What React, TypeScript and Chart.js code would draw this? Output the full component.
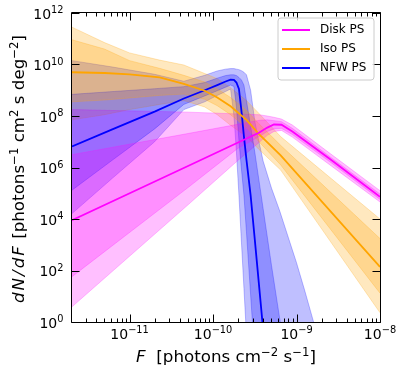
import React, { useEffect, useRef } from 'react';
import { Chart, registerables } from 'chart.js';

Chart.register(...registerables);

// ---- axis ranges (log10 exponents) ----
const xMinExp = -11.69;
const xMaxExp = -8;
const yMinExp = 0;
const yMaxExp = 12;
const xTickExps = [-11, -10, -9, -8];
const yTickExps = [0, 2, 4, 6, 8, 10, 12];

const seriesNames = ['Disk PS', 'Iso PS', 'NFW PS'];
const seriesRGB = ['255,0,255', '255,165,0', '0,0,255'];

// ---- Disk PS (log10 F, log10 dN/dF) ----
const diskLogF = [-11.69, -10.3, -9.7, -9.45, -9.35, -9.27, -9.18, -9.05, -8.6, -8.0];
const diskMed = [3.95, 6.06, 6.97, 7.35, 7.55, 7.67, 7.66, 7.4, 6.33, 4.86];
const diskHi68 = [6.5, 7.32, 7.68, 7.83, 7.85, 7.82, 7.78, 7.52, 6.42, 4.97];
const diskLo68 = [1.76, 5.22, 6.75, 7.2, 7.4, 7.5, 7.52, 7.28, 6.22, 4.76];
const diskHi95 = [8.25, 8.15, 8.08, 8.05, 8.0, 7.95, 7.88, 7.65, 6.55, 5.1];
const diskLo95 = [0.59, 4.55, 6.28, 6.97, 7.25, 7.4, 7.44, 7.18, 6.1, 4.66];

// ---- Iso PS ----
const isoLogF = [-11.69, -11.3, -11.0, -10.64, -10.35, -10.1, -9.95, -9.79, -9.6, -9.45, -9.19, -8.0];
const isoMed = [9.7, 9.67, 9.62, 9.5, 9.25, 8.98, 8.72, 8.38, 7.85, 7.3, 6.47, 2.14];
const isoHi68 = [10.96, 10.6, 10.15, 9.85, 9.58, 9.32, 9.05, 8.72, 8.22, 7.7, 6.86, 3.24];
const isoLo68 = [8.55, 8.62, 8.7, 8.8, 8.85, 8.65, 8.4, 8.05, 7.55, 7.0, 6.1, 1.12];
const isoHi95 = [11.45, 10.85, 10.45, 10.17, 9.98, 9.65, 9.45, 9.1, 8.6, 8.1, 7.2, 4.0];
const isoLo95 = [7.85, 8.05, 8.25, 8.45, 8.6, 8.35, 8.05, 7.64, 7.2, 6.7, 5.9, 0.36];

// ---- NFW PS ----
const nfwLogF = [-11.69, -11.2, -10.7, -10.35, -10.1, -9.95, -9.85, -9.79, -9.75, -9.72, -9.69, -9.66, -9.63, -9.6, -9.55, -9.5, -9.45, -9.4, -9.3, -9.2, -9.1, -9.0, -8.9, -8.8, -8.7];
const nfwMed = [6.82, 7.49, 8.17, 8.68, 9.0, 9.2, 9.34, 9.41, 9.4, 9.3, 9.05, 8.2, 7.2, 6.3, 4.92, 3.2, 1.45, -0.3, -3.5, -6, -6, -6, -6, -6, -6];
const nfwHi68 = [8.84, 8.95, 9.06, 9.14, 9.3, 9.47, 9.57, 9.6, 9.6, 9.57, 9.5, 9.4, 9.2, 8.6, 7.6, 6.6, 5.5, 4.4, 2.2, 0.1, -2, -4, -6, -6, -6];
const nfwLo68 = [5.12, 6.3, 7.5, 8.45, 8.78, 8.98, 9.12, 9.2, 9.15, 8.35, 7.05, 5.94, 4.92, 3.5, 1.05, -1.4, -3.5, -6, -6, -6, -6, -6, -6, -6, -6];
const nfwHi95 = [10.15, 9.9, 9.62, 9.35, 9.58, 9.75, 9.82, 9.84, 9.84, 9.82, 9.8, 9.76, 9.7, 9.6, 9.0, 7.8, 7.0, 6.25, 5.2, 4.3, 3.3, 2.3, 1.2, 0.05, -1.1];
const nfwLo95 = [4.21, 5.6, 7.0, 8.25, 8.55, 8.8, 8.95, 9.05, 8.0, 6.6, 4.92, 3.1, 1.3, -0.5, -3.5, -6, -6, -6, -6, -6, -6, -6, -6, -6, -6];

// ---- text ----
type Seg = { t: string; it?: boolean; sup?: boolean; gap?: number };
const xTitle: Seg[] = [
  { t: 'F', it: true },
  { t: '  [photons cm' },
  { t: '−2', sup: true },
  { t: ' s' },
  { t: '−1', sup: true },
  { t: ']' },
];
const yTitle: Seg[] = [
  { t: 'd', it: true, gap: 2 },
  { t: 'N', it: true, gap: 2 },
  { t: '/', it: true, gap: 2 },
  { t: 'd', it: true, gap: 2 },
  { t: 'F', it: true, gap: 2 },
  { t: ' [photons' },
  { t: '−1', sup: true },
  { t: ' cm' },
  { t: '2', sup: true },
  { t: ' s deg' },
  { t: '−2', sup: true },
  { t: ']' },
];

const FONT = "'DejaVu Sans', 'Liberation Sans', sans-serif";
const TICK_SIZE = 14;
const TITLE_SIZE = 16.7;

const pts = (xs: number[], ys: number[]) => xs.map((x, i) => ({ x: Math.pow(10, x), y: Math.pow(10, ys[i]) }));

function bands(xs: number[], hi95: number[], lo95: number[], hi68: number[], lo68: number[], rgb: string) {
  const c = `rgba(${rgb},0.25)`;
  const common = { pointRadius: 0, borderWidth: 1, borderColor: c, backgroundColor: c, tension: 0 };
  return [
    { ...common, label: '_', data: pts(xs, hi95), fill: '+1', order: 2 },
    { ...common, label: '_', data: pts(xs, lo95), fill: false, order: 2 },
    { ...common, label: '_', data: pts(xs, hi68), fill: '+1', order: 1 },
    { ...common, label: '_', data: pts(xs, lo68), fill: false, order: 1 },
  ];
}

function drawMath(ctx: CanvasRenderingContext2D, segs: Seg[], size: number, x: number, y: number, align: 'center' | 'right') {
  const fontFor = (s: Seg) => `${s.it ? 'italic ' : ''}${s.sup ? size * 0.7 : size}px ${FONT}`;
  let total = 0;
  const widths = segs.map((s) => {
    ctx.font = fontFor(s);
    const w = ctx.measureText(s.t).width + (s.gap || 0);
    total += w;
    return w;
  });
  let cx = align === 'center' ? x - total / 2 : x - total;
  ctx.textAlign = 'left';
  ctx.textBaseline = 'alphabetic';
  segs.forEach((s, i) => {
    ctx.font = fontFor(s);
    ctx.fillText(s.t, cx, s.sup ? y - size * 0.38 : y);
    cx += widths[i];
  });
}

const expSegs = (e: number): Seg[] => [{ t: '10' }, { t: String(e).replace('-', '−'), sup: true }];

const frameTicksPlugin = {
  id: 'frameTicks',
  afterDatasetsDraw(chart: any) {
    const { ctx, chartArea } = chart;
    const { left, right, top, bottom } = chartArea;
    const xs = chart.scales.x;
    const ys = chart.scales.y;
    ctx.save();
    ctx.strokeStyle = '#000';
    ctx.lineWidth = 1;
    const L = Math.round(left) - 0.5;
    const R = Math.round(right) + 0.5;
    const T = Math.round(top) - 0.5;
    const B = Math.round(bottom) + 0.5;
    ctx.beginPath();
    ctx.rect(L, T, R - L, B - T);
    ctx.stroke();
    ctx.beginPath();
    for (let e = Math.floor(xMinExp); e <= xMaxExp; e++) {
      for (let m = 1; m <= 9; m++) {
        const v = m * Math.pow(10, e);
        const lv = Math.log10(v);
        if (lv < xMinExp - 1e-9 || lv > xMaxExp + 1e-9) continue;
        const px = Math.round(xs.getPixelForValue(v)) + 0.5;
        const len = m === 1 ? 8 : 4;
        ctx.moveTo(px, B);
        ctx.lineTo(px, B - len);
        ctx.moveTo(px, T);
        ctx.lineTo(px, T + len);
      }
    }
    for (const e of yTickExps) {
      const py = Math.round(ys.getPixelForValue(Math.pow(10, e))) + 0.5;
      ctx.moveTo(L, py);
      ctx.lineTo(L + 8, py);
      ctx.moveTo(R, py);
      ctx.lineTo(R - 8, py);
    }
    ctx.stroke();

    // tick labels and axis titles
    ctx.fillStyle = '#000';
    for (const e of xTickExps) {
      const px = xs.getPixelForValue(Math.pow(10, e));
      drawMath(ctx, expSegs(e), TICK_SIZE, px, bottom + 16.5, 'center');
    }
    for (const e of yTickExps) {
      const py = ys.getPixelForValue(Math.pow(10, e));
      drawMath(ctx, expSegs(e), TICK_SIZE, left - 8.5, py + 5.5, 'right');
    }
    drawMath(ctx, xTitle, TITLE_SIZE, (left + right) / 2, bottom + 40, 'center');
    ctx.save();
    ctx.translate(left - 48, (top + bottom) / 2 + 1.5);
    ctx.rotate(-Math.PI / 2);
    drawMath(ctx, yTitle, TITLE_SIZE, 0, 0, 'center');
    ctx.restore();
    ctx.restore();
  },
};

const legendPlugin = {
  id: 'insideLegend',
  afterDraw(chart: any) {
    const { ctx, chartArea } = chart;
    const w = 96;
    const h = 62;
    const x0 = chartArea.right - 6 - w;
    const y0 = chartArea.top + 5;
    ctx.save();
    ctx.beginPath();
    const r = 3;
    ctx.moveTo(x0 + r, y0);
    ctx.lineTo(x0 + w - r, y0);
    ctx.quadraticCurveTo(x0 + w, y0, x0 + w, y0 + r);
    ctx.lineTo(x0 + w, y0 + h - r);
    ctx.quadraticCurveTo(x0 + w, y0 + h, x0 + w - r, y0 + h);
    ctx.lineTo(x0 + r, y0 + h);
    ctx.quadraticCurveTo(x0, y0 + h, x0, y0 + h - r);
    ctx.lineTo(x0, y0 + r);
    ctx.quadraticCurveTo(x0, y0, x0 + r, y0);
    ctx.closePath();
    ctx.fillStyle = 'rgba(255,255,255,0.8)';
    ctx.fill();
    ctx.strokeStyle = '#cccccc';
    ctx.lineWidth = 1;
    ctx.stroke();
    ctx.font = `12px ${FONT}`;
    ctx.textBaseline = 'middle';
    ctx.textAlign = 'left';
    seriesNames.forEach((name, i) => {
      const y = y0 + 12 + i * 19;
      ctx.strokeStyle = `rgb(${seriesRGB[i]})`;
      ctx.lineWidth = 2;
      ctx.beginPath();
      ctx.moveTo(x0 + 4, y);
      ctx.lineTo(x0 + 32, y);
      ctx.stroke();
      ctx.fillStyle = '#000';
      ctx.fillText(name, x0 + 42, y);
    });
    ctx.restore();
  },
};

export default function App() {
  const ref = useRef<HTMLCanvasElement>(null);
  useEffect(() => {
    if (!ref.current) return;
    const datasets: any[] = [
      ...bands(diskLogF, diskHi95, diskLo95, diskHi68, diskLo68, seriesRGB[0]),
      ...bands(isoLogF, isoHi95, isoLo95, isoHi68, isoLo68, seriesRGB[1]),
      ...bands(nfwLogF, nfwHi95, nfwLo95, nfwHi68, nfwLo68, seriesRGB[2]),
      { label: seriesNames[0], data: pts(diskLogF, diskMed), borderColor: `rgb(${seriesRGB[0]})`, borderWidth: 1.8, pointRadius: 0, fill: false, order: 0 },
      { label: seriesNames[1], data: pts(isoLogF, isoMed), borderColor: `rgb(${seriesRGB[1]})`, borderWidth: 1.8, pointRadius: 0, fill: false, order: 0 },
      { label: seriesNames[2], data: pts(nfwLogF, nfwMed), borderColor: `rgb(${seriesRGB[2]})`, borderWidth: 1.8, pointRadius: 0, fill: false, order: 0 },
    ];
    const chart = new Chart(ref.current, {
      type: 'line',
      data: { datasets },
      plugins: [frameTicksPlugin, legendPlugin],
      options: {
        animation: false,
        responsive: false,
        maintainAspectRatio: false,
        layout: { padding: { left: 0, right: 27, top: 13, bottom: 0 } },
        plugins: { legend: { display: false }, tooltip: { enabled: false } },
        scales: {
          x: {
            type: 'logarithmic',
            min: Math.pow(10, xMinExp),
            max: Math.pow(10, xMaxExp),
            bounds: 'data',
            grid: { display: false, drawTicks: false },
            border: { display: false },
            afterBuildTicks: (s: any) => {
              s.ticks = xTickExps.map((e) => ({ value: Math.pow(10, e) }));
            },
            afterFit: (s: any) => {
              s.height = 52;
            },
            ticks: { display: false },
            title: { display: false },
          },
          y: {
            type: 'logarithmic',
            min: Math.pow(10, yMinExp),
            max: Math.pow(10, yMaxExp),
            bounds: 'data',
            grid: { display: false, drawTicks: false },
            border: { display: false },
            afterBuildTicks: (s: any) => {
              s.ticks = yTickExps.map((e) => ({ value: Math.pow(10, e) }));
            },
            afterFit: (s: any) => {
              s.width = 72;
            },
            ticks: { display: false },
            title: { display: false },
          },
        },
      },
    } as any);
    return () => chart.destroy();
  }, []);
  return (
    <div style={{ position: 'fixed', left: 0, top: 0, width: 407, height: 374, background: '#fff' }}>
      <canvas ref={ref} width={407} height={374} style={{ display: 'block' }} />
    </div>
  );
}
